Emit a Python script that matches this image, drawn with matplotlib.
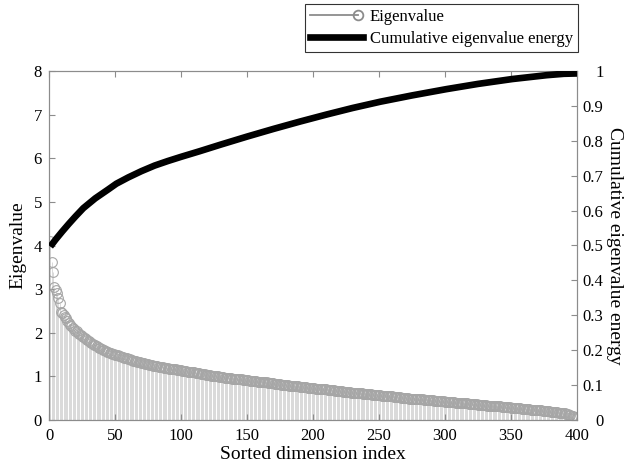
import numpy as np
import matplotlib
matplotlib.use("Agg")
import matplotlib.pyplot as plt
from matplotlib.lines import Line2D
from matplotlib.legend_handler import HandlerBase

eigenvalues = [
    4.10, 3.63, 3.40, 3.05, 2.98, 2.90, 2.79, 2.68, 2.48, 2.45,
    2.41, 2.37, 2.33, 2.28, 2.23, 2.18, 2.15, 2.12, 2.08, 2.05,
    2.03, 2.00, 1.98, 1.95, 1.93, 1.90, 1.88, 1.85, 1.83, 1.81,
    1.79, 1.77, 1.75, 1.73, 1.71, 1.69, 1.67, 1.66, 1.64, 1.62,
    1.61, 1.60, 1.58, 1.57, 1.55, 1.54, 1.53, 1.52, 1.51, 1.50,
    1.49, 1.48, 1.47, 1.46, 1.45, 1.44, 1.43, 1.42, 1.41, 1.40,
    1.39, 1.38, 1.37, 1.36, 1.35, 1.35, 1.34, 1.33, 1.32, 1.31,
    1.31, 1.30, 1.29, 1.28, 1.28, 1.27, 1.26, 1.25, 1.24, 1.24,
    1.23, 1.23, 1.22, 1.22, 1.21, 1.21, 1.20, 1.20, 1.19, 1.19,
    1.18, 1.18, 1.17, 1.17, 1.16, 1.16, 1.15, 1.15, 1.14, 1.14,
    1.13, 1.13, 1.12, 1.12, 1.11, 1.11, 1.10, 1.10, 1.09, 1.09,
    1.08, 1.08, 1.07, 1.07, 1.06, 1.06, 1.05, 1.05, 1.04, 1.04,
    1.03, 1.03, 1.02, 1.02, 1.01, 1.01, 1.00, 1.00, 0.99, 0.99,
    0.98, 0.98, 0.97, 0.97, 0.97, 0.96, 0.96, 0.96, 0.95, 0.95,
    0.95, 0.94, 0.94, 0.93, 0.93, 0.93, 0.92, 0.92, 0.92, 0.91,
    0.91, 0.90, 0.90, 0.90, 0.89, 0.89, 0.89, 0.88, 0.88, 0.87,
    0.87, 0.87, 0.86, 0.86, 0.86, 0.85, 0.85, 0.84, 0.84, 0.84,
    0.83, 0.83, 0.83, 0.82, 0.82, 0.81, 0.81, 0.81, 0.80, 0.80,
    0.80, 0.79, 0.79, 0.79, 0.78, 0.78, 0.78, 0.77, 0.77, 0.76,
    0.76, 0.76, 0.75, 0.75, 0.75, 0.74, 0.74, 0.74, 0.73, 0.73,
    0.73, 0.72, 0.72, 0.72, 0.71, 0.71, 0.71, 0.70, 0.70, 0.70,
    0.69, 0.69, 0.69, 0.68, 0.68, 0.68, 0.67, 0.67, 0.67, 0.66,
    0.66, 0.66, 0.65, 0.65, 0.65, 0.64, 0.64, 0.64, 0.63, 0.63,
    0.63, 0.62, 0.62, 0.62, 0.61, 0.61, 0.61, 0.60, 0.60, 0.60,
    0.60, 0.59, 0.59, 0.59, 0.58, 0.58, 0.58, 0.57, 0.57, 0.57,
    0.57, 0.56, 0.56, 0.56, 0.55, 0.55, 0.55, 0.54, 0.54, 0.54,
    0.53, 0.53, 0.53, 0.52, 0.52, 0.52, 0.51, 0.51, 0.51, 0.50,
    0.50, 0.50, 0.49, 0.49, 0.49, 0.48, 0.48, 0.48, 0.48, 0.47,
    0.47, 0.47, 0.47, 0.46, 0.46, 0.46, 0.46, 0.45, 0.45, 0.45,
    0.45, 0.44, 0.44, 0.44, 0.44, 0.43, 0.43, 0.43, 0.43, 0.42,
    0.42, 0.42, 0.42, 0.41, 0.41, 0.41, 0.41, 0.40, 0.40, 0.40,
    0.39, 0.39, 0.39, 0.39, 0.38, 0.38, 0.38, 0.37, 0.37, 0.37,
    0.37, 0.36, 0.36, 0.36, 0.35, 0.35, 0.35, 0.35, 0.34, 0.34,
    0.34, 0.33, 0.33, 0.33, 0.33, 0.32, 0.32, 0.32, 0.31, 0.31,
    0.31, 0.31, 0.30, 0.30, 0.30, 0.29, 0.29, 0.29, 0.29, 0.28,
    0.28, 0.28, 0.28, 0.27, 0.27, 0.27, 0.27, 0.26, 0.26, 0.26,
    0.26, 0.25, 0.25, 0.25, 0.24, 0.24, 0.24, 0.23, 0.23, 0.23,
    0.22, 0.22, 0.22, 0.21, 0.21, 0.21, 0.20, 0.20, 0.20, 0.19,
    0.19, 0.19, 0.18, 0.18, 0.18, 0.17, 0.17, 0.16, 0.16, 0.15,
    0.15, 0.14, 0.13, 0.12, 0.11, 0.10, 0.09, 0.08, 0.06, 0.04,
]

cum_index = [1, 3, 5, 10, 15, 20, 26, 35, 45, 51, 60, 70, 80, 90, 100,
             114, 130, 150, 170, 190, 210, 230, 251, 275, 301, 325, 351,
             377, 390, 400]
cum_energy = [0.497, 0.507, 0.517, 0.540, 0.562, 0.583, 0.607, 0.635, 0.661,
              0.677, 0.695, 0.713, 0.729, 0.742, 0.754, 0.770, 0.789, 0.812,
              0.834, 0.855, 0.875, 0.894, 0.912, 0.930, 0.948, 0.963, 0.977,
              0.988, 0.992, 0.993]

x_ticks = [0, 50, 100, 150, 200, 250, 300, 350, 400]
left_ticks = [0, 1, 2, 3, 4, 5, 6, 7, 8]
right_ticks = [0, 0.1, 0.2, 0.3, 0.4, 0.5, 0.6, 0.7, 0.8, 0.9, 1]
right_labels = ["0", "0.1", "0.2", "0.3", "0.4", "0.5", "0.6", "0.7", "0.8", "0.9", "1"]

plt.rcParams['font.family'] = ['Liberation Serif', 'DejaVu Serif']

fig = plt.figure(figsize=(6.33, 4.68), dpi=100)
W, H = 633, 468
ax = fig.add_axes([49 / W, 1 - 420 / H, (577 - 49) / W, (420 - 71) / H])

idx = np.arange(1, len(eigenvalues) + 1)
vals = np.array(eigenvalues)

spine_col = '#8c8c8c'
stem_col = '#d3d3d3'
mark_col = '#a6a6a6'
ax.vlines(idx, 0, vals, color=stem_col, lw=0.6, zorder=1)
ax.plot(idx, vals, 'o', mfc='none', mec=mark_col, ms=7, mew=0.8, zorder=2)

ax.set_xlim(0, 400)
ax.set_ylim(0, 8)
ax.set_xticks(x_ticks)
ax.set_yticks(left_ticks)
ax.tick_params(direction='in', length=4, labelsize=12, top=True, color=spine_col)
ax.tick_params(axis='x', pad=6)
ax.tick_params(axis='y', pad=5)
for t in ax.xaxis.get_ticklines():
    t.set_color('#202020')
for s in ax.spines.values():
    s.set_color(spine_col)
    s.set_linewidth(0.8)
ax.set_xlabel('Sorted dimension index', fontsize=14, labelpad=1)
ax.set_ylabel('Eigenvalue', fontsize=14, labelpad=5)

ax2 = ax.twinx()
ax2.plot(cum_index, cum_energy, color='black', lw=4.8, solid_capstyle='butt', zorder=3)
ax2.set_ylim(0, 1)
ax2.set_yticks(right_ticks)
ax2.set_yticklabels(right_labels, ha='right')
ax2.tick_params(direction='in', length=4, labelsize=12, color=spine_col, pad=19)
for s in ax2.spines.values():
    s.set_color(spine_col)
    s.set_linewidth(0.8)
ax2.set_ylabel('Cumulative eigenvalue energy', fontsize=14, rotation=270, labelpad=14)


class StemHandler(HandlerBase):
    def create_artists(self, legend, orig_handle, xdescent, ydescent,
                       width, height, fontsize, trans):
        y = height / 2 - ydescent
        x0, x1 = -xdescent, width - xdescent - 4
        line = Line2D([x0, x1], [y, y], color='#8c8c8c', lw=1.3, transform=trans)
        mk = Line2D([x1], [y], marker='o', ls='none', mfc='none', mec='#8c8c8c',
                    ms=7, mew=1.3, transform=trans)
        return [line, mk]


stem_handle = Line2D([], [], color='#8c8c8c')
cum_handle = Line2D([], [], color='black', lw=4.8)
leg = fig.legend([stem_handle, cum_handle], ['Eigenvalue', 'Cumulative eigenvalue energy'],
                 handler_map={stem_handle: StemHandler()},
                 loc='upper right', bbox_to_anchor=(578 / W, 1 - 4 / H),
                 fontsize=12, frameon=True, fancybox=False, handlelength=3.2,
                 borderpad=0.3, labelspacing=0.35, handletextpad=0.4, borderaxespad=0)
leg.get_frame().set_edgecolor('black')
leg.get_frame().set_linewidth(0.8)

fig.savefig('out.png', dpi=100)
